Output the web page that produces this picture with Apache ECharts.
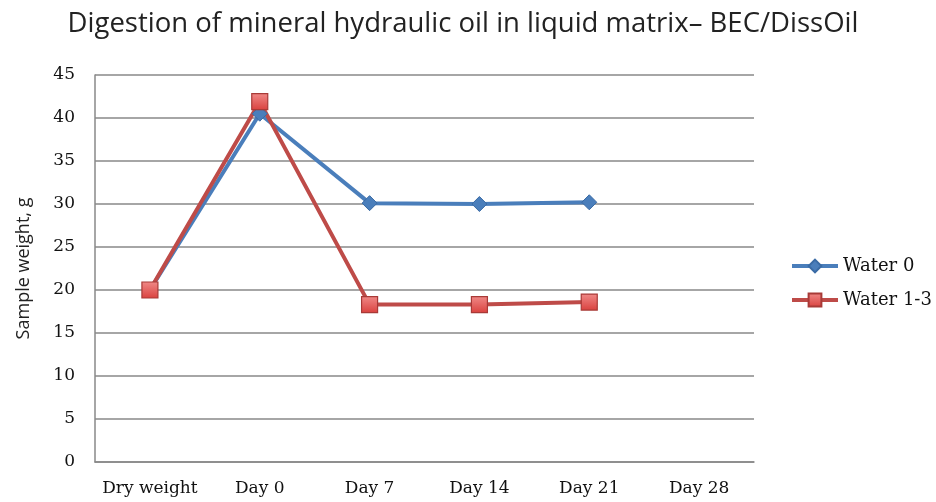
<!DOCTYPE html>
<html><head><meta charset="utf-8">
<script src="https://cdn.jsdelivr.net/npm/echarts@6/dist/echarts.min.js"></script>
<style>html,body{margin:0;padding:0;background:#fff}#c{width:936px;height:502px}</style>
</head><body><div id="c"></div>
<script>
const categories = ["Dry weight","Day 0","Day 7","Day 14","Day 21","Day 28"];
const water0 = [20, 40.5, 30.1, 30.0, 30.2, null];
const water13 = [20, 41.9, 18.3, 18.3, 18.6, null];
const yTicks = [0,5,10,15,20,25,30,35,40,45];

const chart = echarts.init(document.getElementById('c'));
chart.setOption({
  animation:false,
  backgroundColor:'#fff',
  title:{text:'Digestion of mineral hydraulic oil in liquid matrix– BEC/DissOil',left:458,top:5,textAlign:'center',
    textStyle:{fontFamily:'Open Sans',fontWeight:'normal',fontSize:27.5,color:'#222'}},
  grid:{left:95,right:182,top:75,bottom:40},
  legend:{orient:'vertical',left:785,top:252,itemGap:16,itemWidth:46,itemHeight:16,
    textStyle:{fontFamily:'DejaVu Serif',fontSize:18,color:'#111'},
    lineStyle:{width:4},
    data:[{name:'Water 0'},{name:'Water 1-3'}]},
  xAxis:{type:'category',data:categories,boundaryGap:true,
    axisLine:{lineStyle:{color:'#888',width:1.5}},axisTick:{show:false},
    axisLabel:{interval:0,fontFamily:'DejaVu Serif',fontSize:17,color:'#111',margin:18}},
  yAxis:{type:'value',min:0,max:45,interval:5,
    name:'Sample weight, g',nameLocation:'middle',nameGap:62,
    nameTextStyle:{fontFamily:'Open Sans',fontSize:18,color:'#222'},
    axisLine:{show:true,lineStyle:{color:'#888',width:1.5}},axisTick:{show:false},
    splitLine:{lineStyle:{color:'#888',width:1.5}},
    axisLabel:{fontFamily:'DejaVu Serif',fontSize:17,color:'#111',margin:20,
      formatter:v=>yTicks.includes(v)?String(v):''}},
  series:[
    {name:'Water 0',type:'line',data:water0,symbol:'diamond',symbolSize:15,
      lineStyle:{color:'#4A7EBB',width:4},
      itemStyle:{color:'#4A7EBB',borderColor:'#3A6BA5',borderWidth:1}},
    {name:'Water 1-3',type:'line',data:water13,symbol:'rect',symbolSize:16,
      lineStyle:{color:'#BE4B48',width:4},
      itemStyle:{color:new echarts.graphic.LinearGradient(0,0,0,1,[{offset:0,color:'#F08A88'},{offset:1,color:'#D9413E'}]),borderColor:'#A83A37',borderWidth:1.2}}
  ]
});
</script></body></html>
